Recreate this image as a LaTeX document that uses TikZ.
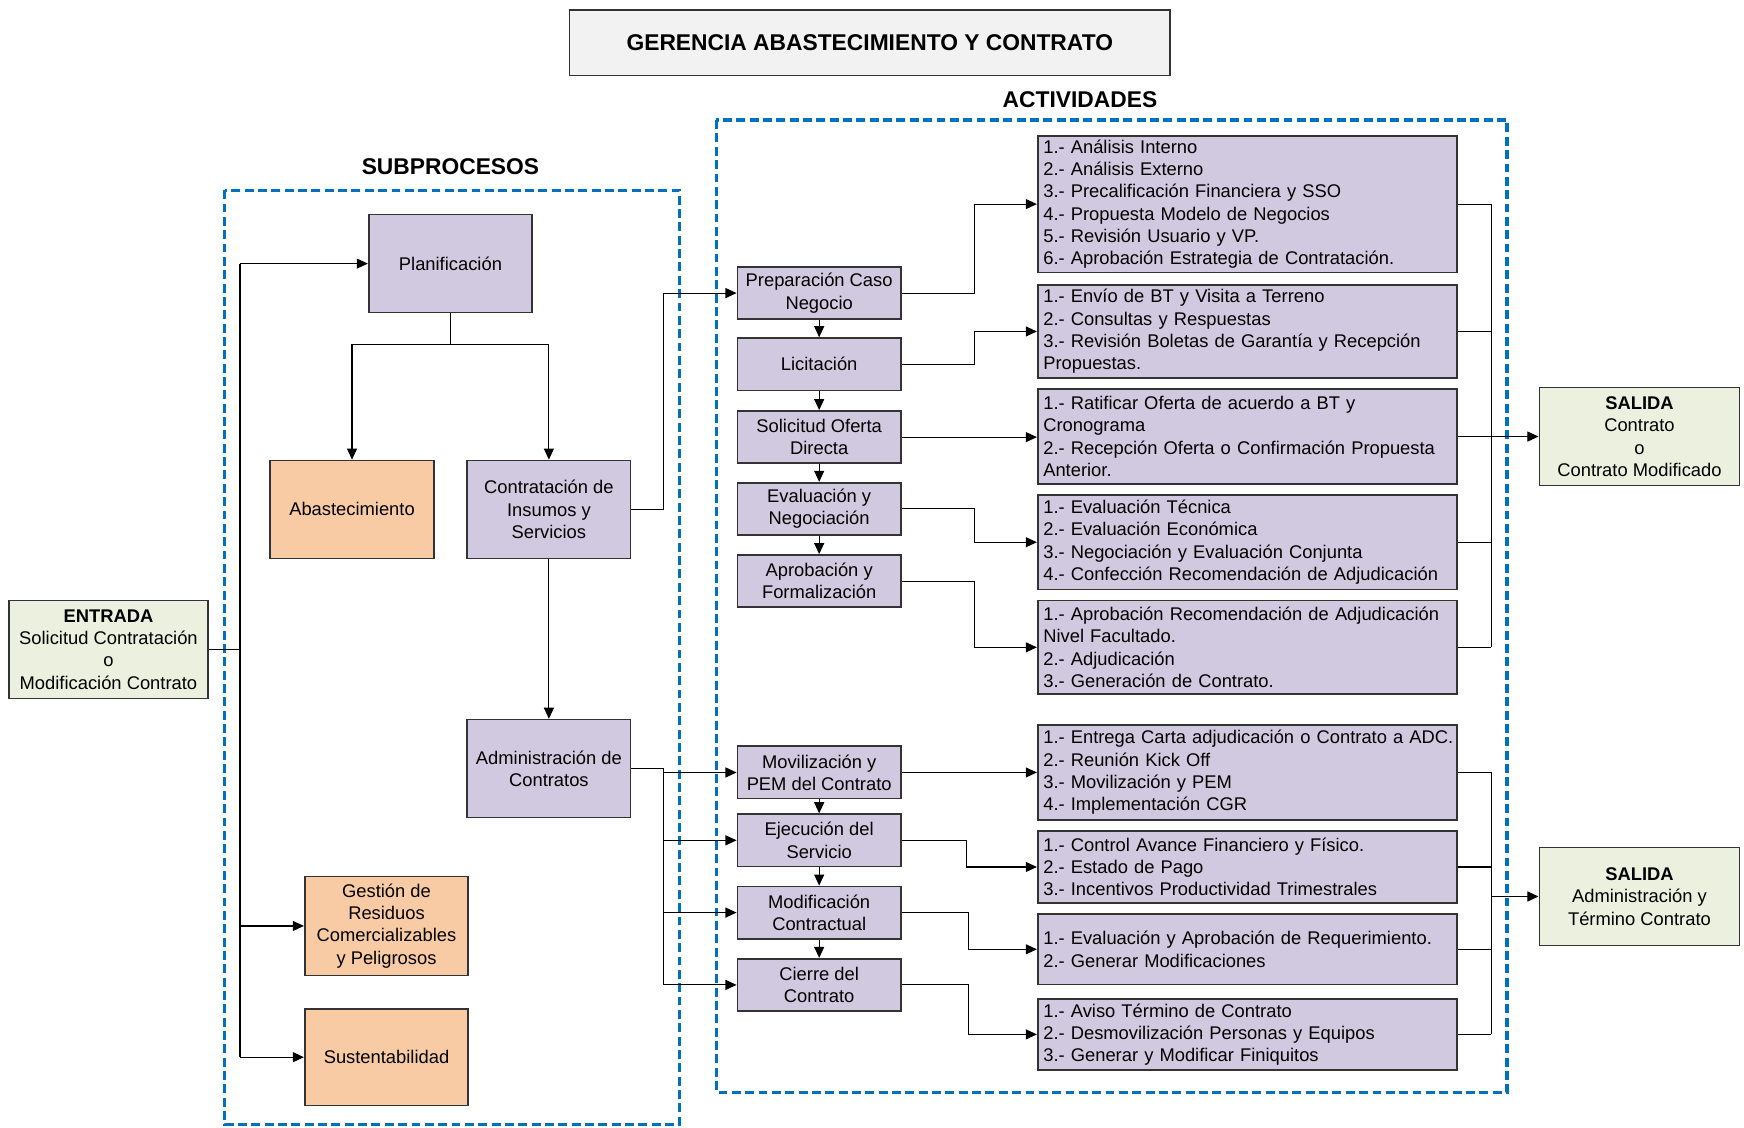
\documentclass[tikz,border=0pt]{standalone}
\usepackage{fontspec}
\setmainfont{Liberation Sans}
\usetikzlibrary{arrows.meta}
\definecolor{lav}{HTML}{D1C9DF}
\definecolor{peach}{HTML}{F9CBA4}
\definecolor{pale}{HTML}{EBF1DE}
\definecolor{ttl}{HTML}{F2F2F2}
\definecolor{bord}{HTML}{333333}
\definecolor{dblue}{HTML}{0070C0}
\begin{document}
\begin{tikzpicture}[x=1pt,y=-1pt,
 base/.style={draw=bord, line width=1.5pt, inner sep=2pt, align=center, font=\fontsize{16.5}{20}\selectfont, text=black},
 lavbox/.style={base, fill=lav},
 peachbox/.style={base, fill=peach},
 greenbox/.style={base, fill=pale},
 sub/.style={minimum width=147pt, minimum height=88pt},
 stepbox/.style={lavbox, minimum width=147pt, minimum height=47pt},
 detail/.style={lavbox, align=left, text width=367pt, inner xsep=5pt, minimum width=377pt},
 conn/.style={draw=black, line width=1pt},
 arr/.style={conn, -{Triangle[length=10pt,width=9pt]}},
 dashblue/.style={draw=dblue, line width=3pt, dash pattern=on 8pt off 4pt},
 head/.style={font=\fontsize{20.5}{24}\selectfont\bfseries}
]
\useasboundingbox (0,0) rectangle (1568,1014);

% title and headers
\node[base, fill=ttl, minimum width=540pt, minimum height=59pt, head] (title) at (782,38.5) {GERENCIA ABASTECIMIENTO Y CONTRATO};
\node[head] (hact) at (971,90) {ACTIVIDADES};
\node[head] (hsub) at (405,150) {SUBPROCESOS};

% dashed groups
\draw[dashblue] (202,171) rectangle (611,1011);
\draw[dashblue] (644,108) rectangle (1355,982);

% entrada / salida
\node[greenbox, minimum width=179pt, minimum height=88pt] (ent) at (97.5,584) {\textbf{ENTRADA}\\Solicitud Contratación\\o\\Modificación Contrato};
\node[greenbox, minimum width=180pt, minimum height=88pt] (s1) at (1474,392.5) {\textbf{SALIDA}\\Contrato\\o\\Contrato Modificado};
\node[greenbox, minimum width=180pt, minimum height=88pt] (s2) at (1474,806) {\textbf{SALIDA}\\Administración y\\Término Contrato};

% subprocesos
\node[lavbox, sub] (plan) at (405,237) {Planificación};
\node[peachbox, sub] (abas) at (316.5,458) {Abastecimiento};
\node[lavbox, sub] (contr) at (493.5,458) {Contratación de\\Insumos y\\Servicios};
\node[lavbox, sub] (adm) at (493.5,691) {Administración de\\Contratos};
\node[peachbox, sub, minimum height=89pt] (gest) at (347.5,832.5) {Gestión de\\Residuos\\Comercializables\\y Peligrosos};
\node[peachbox, sub, minimum height=87pt] (sust) at (347.5,950.5) {Sustentabilidad};

% steps
\node[stepbox] (prep) at (736.5,263.5) {Preparación Caso\\Negocio};
\node[stepbox] (lic) at (736.5,327.5) {Licitación};
\node[stepbox] (sol) at (736.5,393) {Solicitud Oferta\\Directa};
\node[stepbox] (eval) at (736.5,457.5) {Evaluación y\\Negociación};
\node[stepbox] (apro) at (736.5,522.5) {Aprobación y\\Formalización};
\node[stepbox] (mov) at (736.5,694.5) {Movilización y\\PEM del Contrato};
\node[stepbox] (eje) at (736.5,755.5) {Ejecución del\\Servicio};
\node[stepbox] (mod) at (736.5,820.5) {Modificación\\Contractual};
\node[stepbox] (cie) at (736.5,885.5) {Cierre del\\Contrato};

% details
\node[detail, minimum height=123pt] (d1) at (1121.5,183.5) {1.- Análisis Interno\\2.- Análisis Externo\\3.- Precalificación Financiera y SSO\\4.- Propuesta Modelo de Negocios\\5.- Revisión Usuario y VP.\\6.- Aprobación Estrategia de Contratación.};
\node[detail, minimum height=84pt] (d2) at (1121.5,298) {1.- Envío de BT y Visita a Terreno\\2.- Consultas y Respuestas\\3.- Revisión Boletas de Garantía y Recepción\\Propuestas.};
\node[detail, minimum height=85pt] (d3) at (1121.5,392.5) {1.- Ratificar Oferta de acuerdo a BT y\\Cronograma\\2.- Recepción Oferta o Confirmación Propuesta\\Anterior.};
\node[detail, minimum height=85pt] (d4) at (1121.5,487.5) {1.- Evaluación Técnica\\2.- Evaluación Económica\\3.- Negociación y Evaluación Conjunta\\4.- Confección Recomendación de Adjudicación};
\node[detail, minimum height=84pt] (d5) at (1121.5,582) {1.- Aprobación Recomendación de Adjudicación\\Nivel Facultado.\\2.- Adjudicación\\3.- Generación de Contrato.};
\node[detail, minimum height=85pt] (d6) at (1121.5,694.5) {\mbox{1.- Entrega Carta adjudicación o Contrato a ADC.}\\2.- Reunión Kick Off\\3.- Movilización y PEM\\4.- Implementación CGR};
\node[detail, minimum height=65pt] (d7) at (1121.5,779.5) {1.- Control Avance Financiero y Físico.\\2.- Estado de Pago\\3.- Incentivos Productividad Trimestrales};
\node[detail, minimum height=63pt] (d8) at (1121.5,853.5) {1.- Evaluación y Aprobación de Requerimiento.\\2.- Generar Modificaciones};
\node[detail, minimum height=64pt] (d9) at (1121.5,930) {1.- Aviso Término de Contrato\\2.- Desmovilización Personas y Equipos\\3.- Generar y Modificar Finiquitos};

% left connectors
\draw[conn] (ent.east) -- ++(28,0) coordinate (eb);
\draw[conn] (eb |- plan.west) -- (eb |- sust.west);
\draw[arr] (eb |- plan.west) -- (plan.west);
\draw[arr] (eb |- gest.west) -- (gest.west);
\draw[arr] (eb |- sust.west) -- (sust.west);

\draw[conn] (plan.south) -- ++(0,28) coordinate (pj);
\draw[arr] (pj) -| (abas.north);
\draw[arr] (pj) -| (contr.north);
\draw[arr] (contr.south) -- (adm.north);
\draw[arr] (contr.east) -- ++(29,0) |- (prep.west);

\draw[conn] (adm.east) -- ++(29,0) coordinate (ab);
\draw[conn] (ab) -- (ab |- cie.west);
\draw[arr] (ab |- mov.west) -- (mov.west);
\draw[arr] (ab |- eje.west) -- (eje.west);
\draw[arr] (ab |- mod.west) -- (mod.west);
\draw[arr] (ab |- cie.west) -- (cie.west);

% step chain
\draw[arr] (prep.south) -- (lic.north);
\draw[arr] (lic.south) -- (sol.north);
\draw[arr] (sol.south) -- (eval.north);
\draw[arr] (eval.south) -- (apro.north);
\draw[arr] (mov.south) -- (eje.north);
\draw[arr] (eje.south) -- (mod.north);
\draw[arr] (mod.south) -- (cie.north);

% step to details
\draw[arr] (prep.east) -- ++(65,0) |- (d1.west);
\draw[arr] (lic.east) -- ++(65,0) |- (d2.west);
\draw[arr] (sol.east) -- (sol.east -| d3.west);
\draw[arr] (eval.east) -- ++(65,0) |- (d4.west);
\draw[arr] (apro.east) -- ++(65,0) |- (d5.west);
\draw[arr] (mov.east) -- (mov.east -| d6.west);
\draw[arr] (eje.east) -- ++(58,0) |- (d7.west);
\draw[arr] (mod.east) -- ++(60,0) |- (d8.west);
\draw[arr] (cie.east) -- ++(60,0) |- (d9.west);

% right buses
\draw[conn] (d1.east) -- ++(30,0) coordinate (r1);
\draw[conn] (d2.east) -- (d2.east -| r1);
\draw[conn] (d4.east) -- (d4.east -| r1);
\draw[conn] (d5.east) -- (d5.east -| r1) coordinate (r5);
\draw[conn] (r1) -- (r5);
\draw[arr] (d3.east) -- (d3.east -| s1.west);

\draw[conn] (d6.east) -- ++(30,0) coordinate (r6);
\draw[conn] (d7.east) -- (d7.east -| r6);
\draw[conn] (d8.east) -- (d8.east -| r6);
\draw[conn] (d9.east) -- (d9.east -| r6) coordinate (r9);
\draw[conn] (r6) -- (r9);
\draw[arr] (r6 |- s2.west) -- (s2.west);
\end{tikzpicture}
\end{document}
